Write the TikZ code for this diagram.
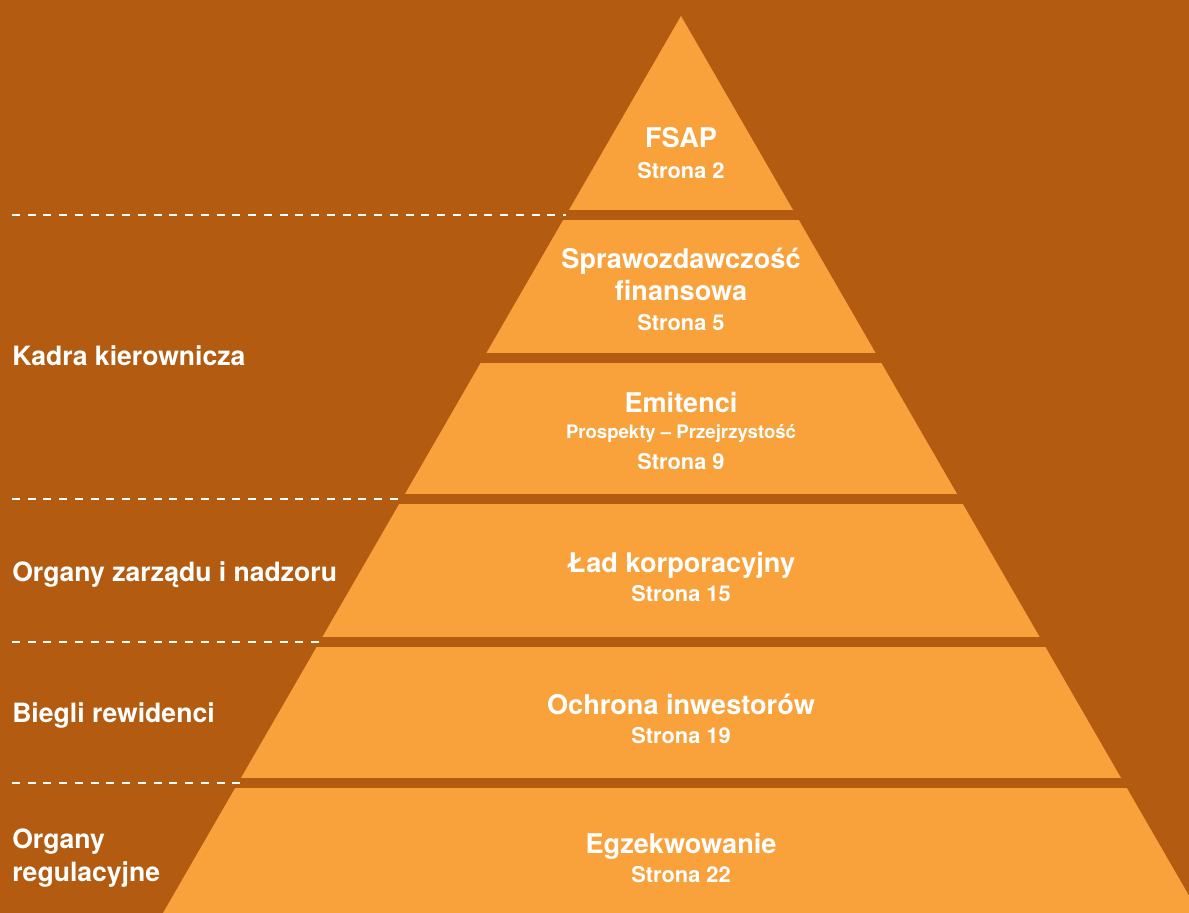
\documentclass[tikz,border=0pt]{standalone}
\usepackage{fontspec}
\setmainfont{TeX Gyre Heros}
\definecolor{sfondo}{RGB}{179,92,17}
\definecolor{piramide}{RGB}{249,161,59}
\tikzset{
  lbl/.style={text=white, font=\bfseries\fontsize{19.3}{22}\selectfont, anchor=base, inner sep=0pt},
  pag/.style={text=white, font=\bfseries\fontsize{15.5}{18}\selectfont, anchor=base, inner sep=0pt},
  sub/.style={text=white, font=\bfseries\fontsize{13.2}{15}\selectfont, anchor=base, inner sep=0pt},
  lato/.style={text=white, font=\bfseries\fontsize{18.9}{22}\selectfont, anchor=base west, inner sep=0pt},
  linea/.style={white, line width=1.4pt, dash pattern=on 5.6pt off 5.6pt}
}
\begin{document}
\begin{tikzpicture}[x=0.025cm, y=-0.025cm]
        \useasboundingbox (0,0) rectangle (1189,913);
        \clip (0,0) rectangle (1189,913);
        \fill[sfondo] (0,0) rectangle (1189,913);

        % Piramide e fasce scure tra i livelli
        \fill[piramide] (681,16) -- (163,913) -- (1199,913) -- cycle;
        \foreach \a/\b in {210/219.5, 353/363, 494/504, 637/647, 778/788}
            \fill[sfondo] (0,\a) rectangle (1189,\b);

        % Punti dove finiscono le linee tratteggiate
        \coordinate (l1_start) at (12,214.7);
        \coordinate (l1_end) at (566,214.7);
        \coordinate (l2_start) at (12,499.3);
        \coordinate (l2_end) at (402,499.3);
        \coordinate (l3_start) at (12,642);
        \coordinate (l3_end) at (320,642);
        \coordinate (l4_start) at (12,783);
        \coordinate (l4_end) at (240,783);

        \draw[linea] (l1_start) -- (l1_end);
        \draw[linea] (l2_start) -- (l2_end);
        \draw[linea] (l3_start) -- (l3_end);
        \draw[linea] (l4_start) -- (l4_end);

        % Testi dentro la piramide
        \node[lbl] (fsap_node) at (681,147) {FSAP};
        \node[pag] (fsap_pag) at (681,178) {Strona 2};

        \node[lbl] (spraw_node) at (681,268) {Sprawozdawczość};
        \node[lbl] (fin_node) at (681,300) {finansowa};
        \node[pag] (spraw_pag) at (681,330) {Strona 5};

        \node[lbl] (emit_node) at (681,412) {Emitenci};
        \node[sub] (prosp_node) at (681,438) {Prospekty – Przejrzystość};
        \node[pag] (emit_pag) at (681,469) {Strona 9};

        \node[lbl] (lad_node) at (681,572) {Ład korporacyjny};
        \node[pag] (lad_pag) at (681,601) {Strona 15};

        \node[lbl] (ochr_node) at (681,714) {Ochrona inwestorów};
        \node[pag] (ochr_pag) at (681,743) {Strona 19};

        \node[lbl] (egz_node) at (681,853) {Egzekwowanie};
        \node[pag] (egz_pag) at (681,882) {Strona 22};

        % Etichette a sinistra
        \node[lato] (kadra_node) at (12,365) {Kadra kierownicza};
        \node[lato] (organy_node) at (12,581) {Organy zarządu i nadzoru};
        \node[lato] (biegli_node) at (12,722) {Biegli rewidenci};
        \node[lato] (reg1_node) at (12,848) {Organy};
        \node[lato] (reg2_node) at (12,881) {regulacyjne};
\end{tikzpicture}
\end{document}
